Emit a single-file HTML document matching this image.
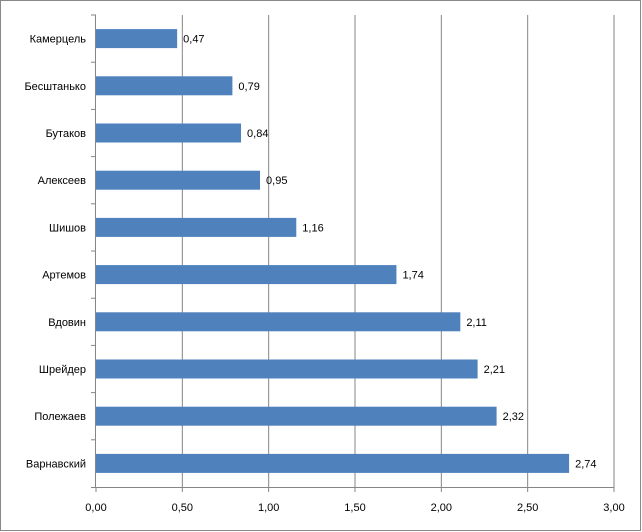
<!DOCTYPE html>
<html><head><meta charset="utf-8"><style>
body{margin:0;background:#fff}
svg{display:block;font-family:"Liberation Sans","DejaVu Sans",sans-serif}
</style></head><body>
<svg id="c" width="642" height="532">
<rect x="0.5" y="0.5" width="640" height="530" fill="#fff" stroke="#888"/>
<g id="g"></g>
</svg>
<script>
const categories=["Камерцель","Бесштанько","Бутаков","Алексеев","Шишов","Артемов","Вдовин","Шрейдер","Полежаев","Варнавский"];
const values=[0.47,0.79,0.84,0.95,1.16,1.74,2.11,2.21,2.32,2.74];
const ticks=[0,0.5,1,1.5,2,2.5,3];
const tickLabels=["0,00","0,50","1,00","1,50","2,00","2,50","3,00"];
const NS="http://www.w3.org/2000/svg";
const g=document.getElementById('g');
const x0=96,x1=614,yTop=15,yBot=487;
const xs=v=>x0+(v-0)/(3-0)*(x1-x0);
const band=(yBot-yTop)/categories.length;
function mk(t,a){const e=document.createElementNS(NS,t);for(const k in a)e.setAttribute(k,a[k]);g.appendChild(e);return e;}
ticks.forEach((t,i)=>{
 if(i>0){const l=mk('line',{x1:xs(t),x2:xs(t),y1:yTop,y2:yBot,stroke:'#868686','stroke-width':1});
 
 }
 const tk=mk('line',{x1:xs(t),x2:xs(t),y1:yBot,y2:yBot+5,stroke:'#868686'});
 
 
 const tx=mk('text',{x:xs(t),y:yBot+24,'font-size':11,'text-anchor':'middle',fill:'#000'});
 tx.textContent=tickLabels[i];
 
 
});
const ax=mk('line',{x1:x0-5,x2:x1,y1:yBot+0.5,y2:yBot+0.5,stroke:'#868686'});


const ay=mk('line',{x1:x0-0.5,x2:x0-0.5,y1:yTop,y2:yBot,stroke:'#868686'});


categories.forEach((c,i)=>{
 const cy=yTop+band*(i+0.5);
 const tk=mk('line',{x1:x0-5,x2:x0,y1:yTop+band*i,y2:yTop+band*i,stroke:'#868686'});
 
 
 const r=mk('rect',{x:x0,y:cy-9.5,width:xs(values[i])-x0,height:19,fill:'#4f81bd'});
 
 
 const lb=mk('text',{x:x0-10,y:cy+4,'font-size':11,'text-anchor':'end',fill:'#000'});
 lb.textContent=c;
 
 
 const vl=mk('text',{x:xs(values[i])+6,y:cy+4,'font-size':11,fill:'#000'});
 vl.textContent=values[i].toFixed(2).replace('.',',');
 
 
});
</script>
</body></html>
